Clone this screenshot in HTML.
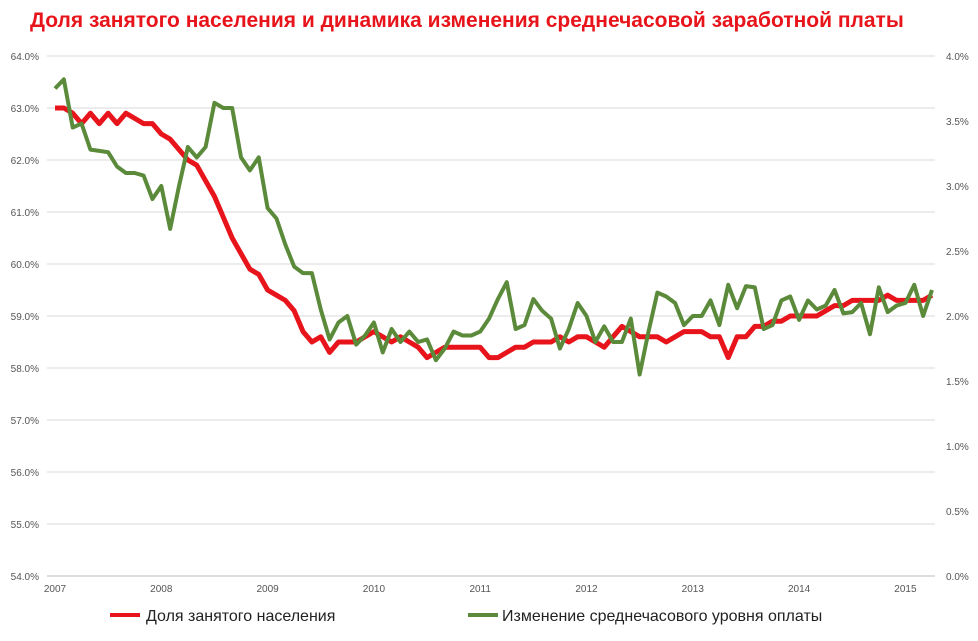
<!DOCTYPE html>
<html><head><meta charset="utf-8"><style>
body{margin:0;background:#fff;font-family:"Liberation Sans",sans-serif;}
</style></head><body>
<svg id="chart" width="978" height="636" xmlns="http://www.w3.org/2000/svg">
<text x="30" y="27" font-size="21" font-weight="bold" fill="#e8141b" font-family="Liberation Sans, sans-serif">Доля занятого населения и динамика изменения среднечасовой заработной платы</text>
<g id="grid"></g><g id="axes"></g><g id="series"></g>
<g>
<line x1="110" y1="615" x2="140" y2="615" stroke="#e8141b" stroke-width="4"/>
<text x="146" y="621" font-size="16" fill="#222">Доля занятого населения</text>
<line x1="468" y1="615" x2="498" y2="615" stroke="#5a8a3a" stroke-width="4"/>
<text x="502" y="621" font-size="16" fill="#222">Изменение среднечасового уровня оплаты</text>
</g>
</svg>
<script>
const years=["2007","2008","2009","2010","2011","2012","2013","2014","2015"];
const leftTicks=[54,55,56,57,58,59,60,61,62,63,64];
const rightTicks=[0,0.5,1,1.5,2,2.5,3,3.5,4];
const employment=[63.0,63.0,62.9,62.7,62.9,62.7,62.9,62.7,62.9,62.8,62.7,62.7,
62.5,62.4,62.2,62.0,61.9,61.6,61.3,60.9,60.5,60.2,59.9,59.8,
59.5,59.4,59.3,59.1,58.7,58.5,58.6,58.3,58.5,58.5,58.5,58.6,
58.7,58.6,58.5,58.6,58.5,58.4,58.2,58.3,58.4,58.4,58.4,58.4,
58.4,58.2,58.2,58.3,58.4,58.4,58.5,58.5,58.5,58.6,58.5,58.6,
58.6,58.5,58.4,58.6,58.8,58.7,58.6,58.6,58.6,58.5,58.6,58.7,
58.7,58.7,58.6,58.6,58.2,58.6,58.6,58.8,58.8,58.9,58.9,59.0,
59.0,59.0,59.0,59.1,59.2,59.2,59.3,59.3,59.3,59.3,59.4,59.3,
59.3,59.3,59.3,59.4];
const wage=[3.75,3.82,3.45,3.48,3.28,3.27,3.26,3.15,3.1,3.1,3.08,2.9,
3.0,2.67,3.0,3.3,3.22,3.3,3.64,3.6,3.6,3.22,3.12,3.22,
2.83,2.75,2.55,2.38,2.33,2.33,2.05,1.82,1.95,2.0,1.78,1.85,
1.95,1.72,1.9,1.8,1.88,1.8,1.82,1.66,1.75,1.88,1.85,1.85,
1.88,1.98,2.13,2.26,1.9,1.93,2.13,2.04,1.98,1.75,1.9,2.1,
2.0,1.8,1.92,1.8,1.8,1.98,1.55,1.88,2.18,2.15,2.1,1.93,
2.0,2.0,2.12,1.93,2.24,2.06,2.23,2.22,1.9,1.93,2.12,2.15,
1.97,2.12,2.05,2.08,2.2,2.02,2.03,2.1,1.86,2.22,2.03,2.08,
2.1,2.24,2.0,2.2];
const NS="http://www.w3.org/2000/svg";
const X0=55,YW=106.3,PL=47,PR=935;
const x=i=>X0+i*YW/12;
const yL=v=>56+(64-v)*52;
const yR=v=>56+(4-v)*130;
function mk(tag,attrs,parent){const e=document.createElementNS(NS,tag);for(const k in attrs)e.setAttribute(k,attrs[k]);parent.appendChild(e);return e;}
const grid=document.getElementById('grid'),axes=document.getElementById('axes'),series=document.getElementById('series');
leftTicks.forEach(t=>{
 const l=mk('line',{x1:PL,x2:PR,y1:yL(t),y2:yL(t),stroke:t===54?'#bbb':'#d9d9d9','stroke-width':1},grid);
 
 
 const tx=mk('text',{x:39,y:yL(t)+4,'font-size':10,fill:'#555','text-anchor':'end'},axes);
 tx.textContent=t.toFixed(1)+'%';
 
 
});
rightTicks.forEach(t=>{
 const tx=mk('text',{x:946,y:yR(t)+4,'font-size':10,fill:'#555'},axes);
 tx.textContent=t.toFixed(1)+'%';
 
 
});
years.forEach((yr,i)=>{
 const tx=mk('text',{x:X0+i*YW,y:592,'font-size':10,fill:'#555','text-anchor':'middle'},axes);
 tx.textContent=yr;
 
 
});
const g=mk('polyline',{points:wage.map((v,i)=>x(i)+','+yR(v)).join(' '),fill:'none',stroke:'#5a8a3a','stroke-width':4,'stroke-linejoin':'round'},series);


const r=mk('polyline',{points:employment.map((v,i)=>x(i)+','+yL(v)).join(' '),fill:'none',stroke:'#e8141b','stroke-width':5,'stroke-linejoin':'round'},series);


series.insertBefore(r,g);
</script>
</body></html>
